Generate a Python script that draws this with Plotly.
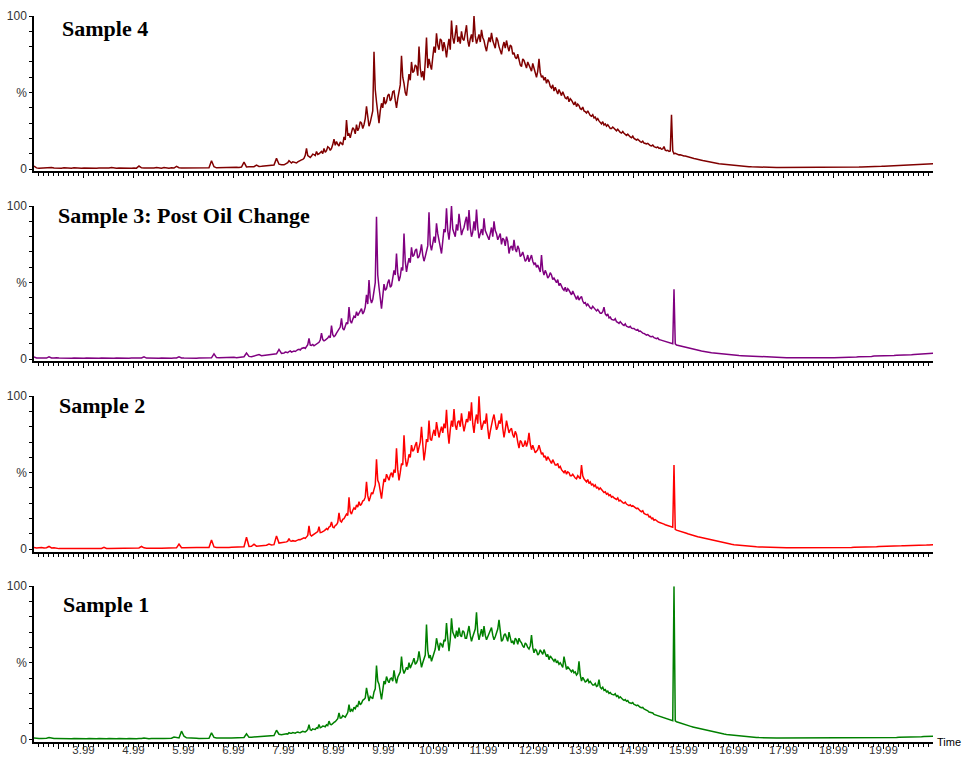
import plotly.graph_objects as go
from plotly.subplots import make_subplots

# Total ion chromatograms, relative intensity (%).
# Each run is stored in three stretches: 3.00-7.95 min every 0.05 min,
# 8.000-16.475 min every 0.025 min (the hydrocarbon hump), 16.50-21.00 min every 0.05 min.
early_start, early_step, early_n = 3.00, 0.05, 100
main_start, main_step, main_n = 8.00, 0.025, 340
late_start, late_step, late_n = 16.50, 0.05, 91

sample4_early = [
    2.0, 0.8, 0.6, 0.7, 0.6, 0.8, 0.7, 1.1, 0.7, 0.6, 0.7, 0.6, 0.8, 0.6, 0.7, 0.6, 0.8, 0.6, 0.7, 0.6,
    0.7, 0.6, 0.8, 0.6, 0.7, 0.6, 0.7, 0.6, 0.8, 0.6, 0.7, 1.0, 0.7, 0.6, 0.7, 0.6, 0.8, 0.6, 0.7, 0.6,
    0.7, 0.6, 2.0, 0.8, 0.7, 0.6, 0.7, 0.6, 0.7, 1.0, 0.7, 0.6, 1.0, 0.7, 0.6, 0.8, 0.7, 1.8, 0.9, 0.7,
    0.7, 0.6, 0.7, 0.8, 0.7, 0.6, 0.7, 0.8, 0.7, 0.8, 0.9, 5.4, 1.5, 0.8, 0.9, 1.0, 0.9, 1.0, 1.1, 1.0,
    1.1, 1.2, 1.1, 1.3, 4.5, 1.4, 1.5, 1.4, 1.6, 2.6, 1.7, 1.8, 2.0, 2.0, 2.2, 2.4, 2.6, 7.0, 3.2, 2.8,
]
sample4_main = [
    2.8, 3.3, 3.5, 4.2, 5.5, 4.6, 4.0, 4.8, 4.5, 3.9, 4.0, 4.7, 5.0, 5.2, 6.0, 6.4, 7.0, 9.0, 13.6, 8.8,
    8.0, 7.6, 8.5, 9.8, 9.5, 8.9, 11.5, 9.6, 10.0, 10.8, 11.5, 10.2, 13.5, 11.0, 12.0, 14.6, 14.0, 12.2, 13.5, 16.0,
    19.5, 15.5, 18.0, 16.2, 15.0, 17.8, 17.0, 15.8, 21.0, 19.0, 32.0, 22.5, 23.0, 20.5, 24.0, 27.0, 26.0, 23.0, 29.0, 25.0,
    27.0, 31.0, 30.0, 26.5, 29.0, 33.0, 41.0, 32.0, 28.0, 30.5, 35.0, 38.0, 76.7, 52.0, 44.0, 36.0, 30.0, 38.0, 43.0, 40.0,
    47.0, 42.5, 44.0, 48.0, 49.0, 44.5, 46.0, 50.5, 51.0, 45.0, 40.0, 46.0, 52.0, 55.0, 74.0, 60.0, 56.0, 50.0, 48.0, 54.0,
    62.0, 58.0, 70.0, 63.0, 64.0, 68.0, 67.0, 61.0, 80.0, 66.0, 60.0, 64.0, 58.0, 70.0, 86.0, 66.0, 72.0, 68.0, 65.0, 73.0,
    80.0, 76.0, 88.7, 81.0, 78.0, 85.0, 84.0, 77.0, 83.0, 79.0, 73.0, 80.0, 85.0, 78.0, 97.0, 86.0, 82.0, 88.0, 94.0, 83.0,
    86.5, 82.0, 90.0, 85.0, 84.0, 89.0, 94.0, 84.0, 80.0, 85.0, 88.0, 83.0, 100.0, 87.0, 82.0, 85.0, 88.0, 83.0, 91.0, 86.0,
    84.0, 80.0, 77.0, 82.0, 86.0, 83.0, 89.0, 84.0, 82.0, 79.0, 86.0, 84.0, 80.0, 77.0, 75.0, 80.0, 83.0, 79.0, 84.0, 80.0,
    77.0, 81.0, 80.0, 75.0, 76.0, 73.0, 72.0, 75.0, 70.0, 68.0, 67.0, 72.0, 71.0, 68.0, 66.0, 70.0, 68.0, 65.0, 64.0, 69.0,
    66.0, 63.0, 60.0, 64.0, 72.0, 63.0, 60.0, 61.0, 58.0, 60.0, 56.0, 58.5, 57.0, 54.0, 53.0, 55.0, 51.0, 53.5, 50.6, 49.0,
    52.0, 50.0, 48.0, 50.5, 48.4, 46.5, 46.0, 47.5, 44.0, 46.0, 45.0, 43.0, 42.0, 44.0, 40.8, 42.5, 41.5, 39.5, 39.0, 40.5,
    38.0, 37.5, 36.6, 38.0, 36.0, 35.0, 34.5, 35.5, 33.5, 34.0, 32.0, 33.0, 31.5, 30.5, 29.5, 31.0, 28.8, 29.5, 28.0, 29.0,
    27.5, 26.5, 26.5, 27.5, 26.7, 25.5, 25.0, 26.0, 24.5, 24.0, 23.5, 24.5, 23.4, 22.5, 22.0, 22.8, 21.5, 21.0, 20.5, 21.5,
    20.0, 19.2, 19.0, 19.5, 18.5, 18.0, 17.5, 18.2, 17.0, 16.6, 16.5, 16.8, 15.8, 15.4, 15.2, 15.7, 14.7, 14.3, 14.0, 14.5,
    13.5, 13.8, 13.0, 13.2, 14.7, 12.4, 12.0, 12.3, 11.5, 11.8, 35.4, 12.0, 10.0, 10.3, 9.8, 9.5, 9.3, 9.4, 9.0, 8.8,
    8.6, 8.5, 8.2, 8.0, 7.8, 7.6, 7.3, 7.1, 6.9, 6.8, 6.5, 6.3, 6.1, 6.0, 5.8, 5.6, 5.4, 5.3, 5.0, 4.9,
]
sample4_late = [
    4.7, 4.4, 4.1, 3.8, 3.5, 3.3, 3.1, 2.9, 2.7, 2.5,
    2.3, 2.1, 2.0, 1.9, 1.8, 1.7, 1.6, 1.5, 1.4, 1.3, 1.2, 1.2, 1.1, 1.1, 1.0, 1.0, 1.0, 1.0, 1.0, 1.0,
    1.0, 0.9, 1.0, 0.9, 1.0, 0.9, 1.0, 0.9, 1.0, 0.9, 1.0, 0.9, 1.0, 0.9, 1.0, 0.9, 1.0, 0.9, 1.0, 1.0,
    1.0, 1.0, 1.0, 1.0, 1.0, 1.1, 1.1, 1.2, 1.2, 1.3, 1.3, 1.4, 1.4, 1.5, 1.5, 1.6, 1.6, 1.7, 1.7, 1.8,
    1.9, 2.0, 2.1, 2.2, 2.3, 2.3, 2.4, 2.5, 2.6, 2.7, 2.8, 2.8, 2.9, 3.0, 3.1, 3.2, 3.2, 3.3, 3.4, 3.5, 3.6,
]

sample3_early = [
    1.5, 0.8, 0.7, 0.7, 0.8, 0.7, 1.5, 0.8, 0.7, 1.0, 0.7, 0.6, 0.7, 0.6, 0.7, 0.6, 0.7, 0.6, 0.7, 0.6,
    0.6, 0.7, 0.6, 0.6, 0.7, 0.6, 0.6, 0.7, 0.6, 0.6, 0.7, 0.6, 0.6, 0.7, 0.6, 0.6, 0.7, 0.6, 0.6, 0.7,
    0.6, 0.6, 0.7, 0.8, 1.5, 0.7, 0.6, 0.6, 0.7, 0.6, 0.6, 0.7, 0.6, 0.6, 0.7, 0.6, 0.7, 0.8, 1.5, 0.8,
    0.7, 0.6, 0.7, 0.6, 0.7, 0.6, 0.7, 0.7, 0.8, 0.8, 0.9, 0.9, 3.5, 1.0, 0.9, 1.0, 1.0, 1.1, 1.0, 1.1,
    1.2, 1.0, 1.3, 1.5, 1.6, 4.0, 1.8, 1.6, 2.0, 2.2, 3.0, 2.3, 2.5, 2.8, 2.6, 3.0, 3.2, 3.5, 6.4, 3.8,
]
sample3_main = [
    4.0, 4.6, 4.5, 4.2, 5.0, 5.4, 4.6, 4.9, 5.3, 5.0, 5.8, 6.2, 6.4, 6.0, 7.0, 7.4, 7.5, 7.0, 8.0, 9.5,
    13.6, 9.2, 9.0, 9.6, 8.7, 9.4, 10.0, 10.5, 11.0, 12.5, 17.0, 12.8, 12.0, 12.5, 13.0, 13.8, 15.0, 14.0, 22.0, 16.0,
    14.7, 15.5, 17.0, 18.2, 19.0, 21.0, 26.7, 20.0, 19.0, 21.5, 24.0, 23.0, 34.0, 25.0, 23.5, 26.0, 28.0, 27.0, 31.0, 28.5,
    30.0, 31.5, 33.0, 29.5, 31.0, 34.0, 42.0, 36.0, 51.7, 40.0, 36.6, 39.0, 45.0, 50.0, 93.0, 55.0, 47.0, 39.0, 33.0, 41.0,
    49.0, 45.0, 46.0, 50.0, 52.0, 47.0, 48.0, 53.0, 58.0, 55.0, 69.0, 56.0, 51.0, 54.0, 60.0, 58.0, 82.0, 64.0, 57.0, 62.0,
    66.0, 63.0, 73.0, 67.0, 68.0, 71.0, 72.0, 66.0, 67.0, 70.0, 75.0, 68.0, 64.0, 67.0, 70.0, 74.0, 96.0, 75.0, 71.0, 77.0,
    80.0, 76.0, 88.7, 82.0, 78.0, 73.0, 69.0, 77.0, 85.0, 83.0, 98.5, 84.0, 78.0, 86.0, 100.0, 85.0, 82.0, 80.0, 88.0, 84.0,
    95.0, 85.0, 81.0, 84.0, 86.0, 90.0, 93.0, 84.0, 97.4, 86.0, 80.0, 83.0, 90.0, 84.0, 97.7, 86.0, 79.0, 82.0, 85.0, 81.0,
    92.0, 84.0, 82.0, 80.0, 78.0, 82.0, 86.0, 80.0, 90.0, 84.0, 82.0, 78.0, 80.0, 82.0, 75.0, 79.0, 78.0, 74.0, 80.0, 77.0,
    69.0, 73.0, 74.0, 71.0, 78.0, 72.0, 70.0, 74.0, 72.0, 67.0, 68.0, 70.0, 67.0, 64.0, 65.0, 68.0, 63.6, 66.0, 68.0, 64.0,
    62.0, 63.0, 60.0, 61.5, 59.0, 57.0, 68.0, 58.0, 55.0, 58.0, 56.0, 53.0, 54.0, 56.5, 55.0, 52.0, 53.0, 51.0, 50.0, 52.0,
    48.0, 49.5, 47.0, 46.0, 45.0, 47.0, 44.0, 46.0, 45.0, 43.0, 42.0, 44.5, 43.0, 41.0, 39.0, 41.5, 38.6, 40.0, 41.0, 38.0,
    36.5, 37.0, 35.0, 36.0, 34.5, 33.5, 33.0, 34.5, 33.5, 32.0, 31.5, 32.5, 31.0, 30.0, 30.0, 31.0, 34.0, 29.5, 28.5, 29.5,
    27.0, 27.5, 26.0, 25.5, 25.5, 26.5, 24.5, 24.0, 23.4, 24.5, 23.0, 22.5, 22.0, 23.0, 21.5, 21.0, 20.8, 21.5, 20.3, 20.0,
    20.0, 19.3, 19.0, 19.4, 18.2, 18.4, 17.6, 17.0, 16.8, 16.3, 15.7, 16.0, 15.2, 14.8, 14.6, 14.9, 14.0, 13.6, 13.4, 13.8,
    12.8, 12.6, 12.3, 12.0, 11.8, 11.6, 11.2, 11.0, 10.6, 10.7, 10.3, 10.1, 45.6, 10.0, 9.2, 9.0, 8.8, 8.6, 8.3, 8.1,
    7.8, 7.5, 7.3, 7.1, 6.9, 6.7, 6.5, 6.4, 6.2, 6.0, 5.9, 5.7, 5.6, 5.4, 5.3, 5.2, 5.0, 4.9, 4.8, 4.6,
]
sample3_late = [
    4.5, 4.2, 4.0, 3.8, 3.6, 3.4, 3.3, 3.1, 2.9, 2.7,
    2.6, 2.5, 2.4, 2.3, 2.2, 2.1, 2.0, 1.9, 1.8, 1.7, 1.7, 1.6, 1.5, 1.4, 1.3, 1.2, 1.2, 1.1, 1.1, 1.0,
    1.0, 0.9, 1.0, 0.9, 1.0, 0.9, 1.0, 0.9, 1.0, 0.9, 1.0, 0.9, 1.0, 0.9, 1.0, 0.9, 1.0, 0.9, 1.0, 1.0,
    1.0, 1.0, 1.0, 1.1, 1.1, 1.2, 1.2, 1.3, 1.3, 1.4, 1.5, 1.5, 1.6, 1.7, 1.8, 1.8, 2.0, 2.0, 2.1, 2.2,
    2.2, 2.3, 2.3, 2.4, 2.4, 2.5, 2.5, 2.6, 2.7, 2.8, 2.9, 2.9, 3.0, 3.1, 3.2, 3.3, 3.4, 3.5, 3.6, 3.8, 3.9,
]

sample2_early = [
    1.2, 0.8, 1.0, 1.2, 0.8, 1.0, 1.8, 0.8, 1.0, 0.6, 0.4, 0.4, 0.5, 0.4, 0.4, 0.5, 0.4, 0.4, 0.5, 0.4,
    0.4, 0.5, 0.4, 0.4, 0.5, 0.4, 0.4, 0.5, 1.2, 0.5, 0.4, 0.4, 0.5, 0.4, 0.4, 0.5, 0.4, 0.4, 0.5, 0.4,
    0.5, 0.6, 0.8, 1.8, 0.9, 0.7, 0.6, 0.7, 0.6, 0.7, 0.6, 0.7, 0.7, 0.8, 0.7, 0.8, 0.8, 0.9, 3.4, 1.0,
    1.0, 1.1, 1.0, 1.1, 1.0, 1.1, 1.1, 1.0, 1.1, 1.2, 1.1, 6.0, 1.5, 1.2, 1.1, 1.2, 1.2, 1.3, 1.2, 1.3,
    1.3, 1.4, 1.4, 1.5, 1.6, 7.8, 1.8, 1.9, 3.3, 2.0, 2.1, 2.3, 2.5, 2.6, 3.4, 2.8, 3.0, 8.7, 4.0, 4.2,
]
sample2_main = [
    4.5, 4.9, 4.8, 5.3, 7.0, 5.4, 5.2, 5.6, 5.5, 5.2, 5.6, 6.0, 6.4, 6.2, 6.8, 7.2, 7.5, 7.1, 8.0, 9.0,
    15.3, 9.5, 8.7, 9.2, 9.5, 10.0, 10.5, 11.5, 14.7, 10.8, 11.0, 11.8, 12.0, 12.6, 13.5, 12.8, 14.5, 15.0, 17.8, 14.5,
    14.0, 15.5, 16.0, 17.5, 23.8, 18.5, 17.8, 19.5, 20.0, 21.5, 23.0, 22.0, 33.9, 24.5, 23.0, 25.5, 27.0, 26.0, 29.0, 27.5,
    31.0, 28.5, 29.5, 31.5, 32.0, 34.0, 44.0, 35.0, 31.4, 34.0, 37.0, 36.0, 40.0, 42.0, 58.7, 45.0, 43.0, 38.0, 33.0, 40.0,
    46.0, 44.0, 49.0, 47.0, 45.0, 48.5, 50.0, 47.0, 52.0, 50.0, 66.0, 52.0, 45.0, 50.0, 56.0, 55.0, 74.5, 60.0, 54.0, 57.0,
    62.0, 60.0, 68.0, 64.0, 65.0, 68.0, 70.0, 63.0, 66.0, 70.0, 80.0, 65.0, 58.0, 64.0, 72.0, 70.0, 84.0, 72.0, 71.0, 75.0,
    78.0, 74.0, 83.0, 78.0, 73.0, 77.0, 80.0, 76.0, 82.0, 79.0, 91.0, 77.0, 69.0, 78.0, 84.0, 80.0, 91.5, 81.0, 78.0, 83.0,
    84.0, 80.0, 88.7, 82.0, 77.0, 81.0, 85.0, 83.0, 90.0, 84.0, 96.0, 82.0, 76.0, 84.0, 88.0, 82.0, 100.0, 85.0, 78.0, 81.0,
    84.0, 82.0, 88.7, 79.0, 72.0, 77.0, 82.0, 85.0, 88.0, 81.0, 78.0, 80.0, 84.0, 82.0, 88.7, 79.0, 73.0, 78.0, 84.0, 80.0,
    76.0, 78.0, 79.0, 75.0, 73.0, 77.0, 75.0, 70.0, 66.0, 71.0, 70.0, 67.0, 68.0, 71.0, 67.0, 70.0, 76.0, 69.0, 65.0, 68.0,
    66.0, 63.0, 64.0, 65.0, 68.0, 64.0, 62.0, 63.0, 60.0, 61.0, 58.0, 60.5, 59.0, 57.0, 56.0, 58.5, 57.0, 55.0, 55.0, 56.0,
    53.0, 54.0, 52.0, 51.0, 50.0, 51.5, 49.0, 50.5, 50.0, 48.0, 48.0, 49.0, 47.5, 46.5, 46.0, 48.0, 47.0, 46.0, 55.0, 48.0,
    46.0, 45.0, 44.0, 45.5, 43.0, 44.0, 42.0, 42.5, 41.0, 42.0, 40.0, 40.5, 39.0, 40.0, 38.6, 38.0, 37.0, 37.5, 36.0, 36.5,
    35.0, 35.5, 34.0, 34.5, 33.5, 33.0, 32.5, 33.5, 31.5, 32.0, 31.0, 30.5, 30.0, 30.8, 29.5, 29.0, 28.5, 29.0, 28.0, 28.5,
    27.7, 27.0, 26.5, 26.8, 25.5, 25.0, 24.5, 25.2, 23.4, 23.0, 22.5, 22.8, 21.2, 21.5, 20.0, 20.4, 19.0, 19.4, 18.3, 18.0,
    17.6, 17.4, 17.0, 16.8, 16.4, 16.0, 15.8, 15.6, 15.2, 15.0, 14.7, 14.4, 55.0, 13.0, 12.5, 12.3, 12.0, 11.7, 11.4, 11.2,
    10.9, 10.6, 10.4, 10.1, 9.8, 9.6, 9.4, 9.2, 9.0, 8.7, 8.5, 8.2, 8.0, 7.8, 7.6, 7.4, 7.2, 7.0, 6.8, 6.6,
]
sample2_late = [
    6.4, 6.0, 5.6, 5.2, 4.8, 4.4, 4.1, 3.8, 3.5, 3.2,
    3.0, 2.8, 2.6, 2.4, 2.2, 2.1, 2.0, 1.8, 1.7, 1.6, 1.5, 1.4, 1.3, 1.2, 1.2, 1.1, 1.0, 1.0, 0.9, 0.9,
    0.9, 0.9, 0.9, 0.9, 0.9, 0.9, 0.9, 0.9, 0.9, 0.9, 0.8, 0.8, 0.8, 0.8, 0.8, 0.8, 0.8, 0.8, 0.8, 0.8,
    0.9, 0.9, 1.0, 1.0, 1.1, 1.1, 1.2, 1.2, 1.3, 1.3, 1.4, 1.4, 1.5, 1.5, 1.6, 1.6, 1.7, 1.7, 1.8, 1.8,
    1.9, 1.9, 2.0, 2.0, 2.1, 2.1, 2.2, 2.2, 2.3, 2.3, 2.4, 2.4, 2.5, 2.5, 2.6, 2.6, 2.7, 2.7, 2.8, 2.8, 2.9,
]

sample1_early = [
    0.8, 0.5, 0.5, 0.6, 0.5, 0.7, 1.1, 0.6, 0.5, 0.6, 0.5, 0.4, 0.5, 0.4, 0.5, 0.4, 0.5, 0.4, 0.5, 0.4,
    0.5, 0.4, 0.6, 0.4, 0.5, 0.4, 0.6, 0.4, 0.5, 0.4, 0.6, 0.4, 0.5, 0.4, 0.6, 0.4, 0.5, 0.4, 0.6, 0.4,
    0.5, 0.4, 0.6, 0.5, 0.9, 0.5, 0.4, 0.5, 0.4, 0.5, 0.4, 0.5, 0.6, 0.7, 0.8, 0.7, 1.5, 1.2, 0.9, 5.3,
    2.0, 1.0, 0.8, 0.7, 0.6, 0.7, 0.6, 0.7, 0.6, 0.7, 0.7, 4.2, 1.2, 0.8, 0.7, 0.7, 0.8, 0.7, 0.8, 0.8,
    0.9, 1.0, 1.0, 1.1, 1.2, 3.6, 1.3, 1.4, 1.5, 1.5, 1.6, 1.7, 1.8, 1.9, 2.0, 2.2, 2.5, 5.9, 3.3, 3.0,
]
sample1_main = [
    3.4, 3.8, 3.6, 3.4, 4.3, 4.0, 3.9, 4.4, 4.2, 4.0, 4.5, 4.8, 4.5, 4.3, 4.8, 5.2, 5.0, 4.8, 5.5, 6.5,
    9.5, 6.2, 5.8, 6.8, 6.5, 6.4, 7.5, 7.2, 9.7, 7.6, 8.0, 8.6, 8.5, 8.2, 9.5, 9.0, 11.9, 9.8, 9.5, 10.5,
    11.0, 11.5, 12.5, 13.5, 17.3, 13.8, 14.0, 15.5, 15.0, 14.5, 16.0, 17.5, 22.7, 18.0, 19.4, 18.5, 21.0, 20.0, 22.0, 21.5,
    25.0, 22.5, 23.5, 25.5, 26.0, 27.0, 33.6, 27.5, 25.0, 28.0, 27.0, 26.5, 31.0, 33.0, 48.2, 38.0, 36.0, 30.0, 26.0, 32.0,
    38.0, 36.0, 41.0, 38.5, 37.0, 39.5, 40.0, 38.0, 45.0, 40.0, 36.6, 40.5, 42.0, 44.0, 54.0, 46.0, 43.0, 44.5, 47.0, 45.5,
    50.0, 46.5, 48.0, 50.5, 53.0, 49.0, 50.0, 52.0, 57.5, 51.0, 47.0, 50.0, 52.0, 55.0, 75.0, 58.0, 53.0, 55.0, 51.0, 54.0,
    56.0, 59.0, 66.0, 61.0, 58.0, 63.0, 62.0, 60.0, 65.0, 64.0, 76.0, 66.0, 57.5, 65.0, 79.0, 70.0, 68.0, 66.0, 71.0, 67.0,
    73.0, 68.0, 67.0, 71.0, 70.0, 66.0, 66.0, 70.0, 74.0, 68.0, 64.0, 67.0, 70.0, 72.0, 83.0, 70.0, 65.0, 69.0, 72.0, 67.0,
    74.0, 68.0, 65.0, 67.0, 69.0, 71.0, 73.0, 68.0, 65.0, 67.0, 70.0, 72.0, 78.0, 69.0, 64.0, 65.0, 68.0, 69.0, 66.0, 64.0,
    70.0, 66.0, 63.0, 64.0, 62.0, 66.0, 65.0, 62.0, 66.0, 64.0, 63.0, 61.0, 60.0, 63.0, 62.0, 60.0, 59.0, 61.0, 68.0, 60.0,
    56.5, 59.0, 58.0, 55.0, 56.0, 58.5, 57.0, 55.5, 58.6, 56.0, 54.0, 55.5, 52.0, 54.5, 53.0, 52.0, 51.0, 52.5, 50.0, 51.0,
    49.0, 50.0, 48.0, 47.0, 54.0, 49.0, 45.6, 47.5, 46.0, 45.0, 44.0, 45.5, 43.4, 44.0, 42.0, 43.0, 51.0, 42.0, 38.0, 40.5,
    39.0, 37.5, 38.0, 39.5, 37.0, 37.8, 36.5, 35.5, 35.5, 36.5, 34.5, 35.0, 39.0, 34.0, 33.0, 34.0, 32.0, 32.5, 31.0, 31.5,
    30.0, 30.5, 29.5, 29.0, 29.0, 29.8, 28.0, 28.5, 27.0, 27.8, 26.5, 26.0, 25.5, 26.0, 24.8, 25.3, 24.0, 23.6, 23.4, 24.0,
    22.8, 22.5, 22.0, 22.3, 21.2, 20.9, 20.6, 20.8, 19.8, 19.5, 19.0, 18.6, 17.8, 17.6, 17.0, 17.2, 16.3, 16.0, 15.6, 15.8,
    15.0, 14.8, 14.5, 14.2, 13.9, 13.7, 13.4, 13.1, 12.8, 12.6, 12.4, 12.2, 100.0, 12.0, 11.5, 11.2, 10.9, 10.6, 10.2, 10.0,
    9.7, 9.5, 9.2, 9.0, 8.7, 8.5, 8.3, 8.1, 7.9, 7.6, 7.4, 7.2, 7.0, 6.8, 6.6, 6.4, 6.2, 6.0, 5.8, 5.6,
]
sample1_late = [
    5.4, 5.0, 4.7, 4.4, 4.1, 3.8, 3.5, 3.2, 3.0, 2.7,
    2.5, 2.3, 2.1, 1.9, 1.7, 1.6, 1.5, 1.4, 1.3, 1.2, 1.1, 1.0, 1.0, 0.9, 0.9, 0.9, 0.8, 0.8, 0.8, 0.8,
    0.8, 0.8, 0.8, 0.8, 0.8, 0.8, 0.8, 0.8, 0.8, 0.8, 0.8, 0.8, 0.8, 0.8, 0.8, 0.8, 0.8, 0.8, 0.8, 0.8,
    0.8, 0.8, 0.8, 0.8, 0.8, 0.9, 0.9, 0.9, 0.9, 0.9, 0.9, 1.0, 1.0, 1.0, 1.0, 1.0, 1.0, 1.0, 1.0, 1.0,
    1.0, 1.0, 1.1, 1.1, 1.2, 1.2, 1.3, 1.3, 1.4, 1.4, 1.5, 1.5, 1.6, 1.6, 1.7, 1.7, 1.8, 1.8, 1.9, 2.0, 2.0,
]

panel_titles = ["Sample 4", "Sample 3: Post Oil Change", "Sample 2", "Sample 1"]
panel_parts = [
    (sample4_early, sample4_main, sample4_late),
    (sample3_early, sample3_main, sample3_late),
    (sample2_early, sample2_main, sample2_late),
    (sample1_early, sample1_main, sample1_late),
]
panel_colors = ["#800000", "#800080", "#FF0000", "#008000"]

time = ([round(early_start + i * early_step, 3) for i in range(early_n)]
        + [round(main_start + i * main_step, 3) for i in range(main_n)]
        + [round(late_start + i * late_step, 3) for i in range(late_n)])

panel_series = []
for early, main, late in panel_parts:
    assert (len(early), len(main), len(late)) == (early_n, main_n, late_n), (len(early), len(main), len(late))
    panel_series.append(early + main + late)

# axis ticks: labelled every minute at x.99, long ticks every half minute, short every 0.1 min
major_ticks = [round(3.49 + 0.5 * k, 2) for k in range(35)]
major_text = [f"{v:.2f}" if abs((v % 1) - 0.99) < 1e-6 else "" for v in major_ticks]
y_ticks = list(range(0, 101, 10))
y_text = ["0", "", "", "", "", "%", "", "", "", "", "100"]

W, H = 963, 759
ML, MR, MT, MB = 34, 30, 16, 16.5
plot_h = H - MT - MB
panel_h = 155.5
panel_pitch = 190.2


def ypaper(px):
    return (H - MB - px) / plot_h


def xpaper(px):
    return (px - ML) / (W - ML - MR)


fig = make_subplots(rows=4, cols=1)

tick_font = dict(family="Arial, Liberation Sans, sans-serif", size=12, color="#333333")
x_tick_font = dict(family="Arial, Liberation Sans, sans-serif", size=11.5, color="#333333")

for i, (name, ys, col) in enumerate(zip(panel_titles, panel_series, panel_colors)):
    row = i + 1
    fig.add_trace(
        go.Scatter(x=time, y=ys, mode="lines", line=dict(color=col, width=1.5),
                   name=name, showlegend=False, hoverinfo="x+y"),
        row=row, col=1,
    )
    top = MT + panel_pitch * i
    fig.update_yaxes(
        domain=[ypaper(top + panel_h), ypaper(top)],
        range=[-1.5, 100], tickmode="array", tickvals=y_ticks, ticktext=y_text,
        ticks="outside", ticklen=3, tickwidth=1, tickcolor="black",
        showline=True, linecolor="black", linewidth=1.5,
        showgrid=False, zeroline=False, tickfont=tick_font, automargin=False,
        row=row, col=1,
    )
    fig.update_xaxes(
        range=[3.0, 20.98], tickmode="array", tickvals=major_ticks, ticktext=major_text,
        ticks="outside", ticklen=5, tickwidth=1, tickcolor="black",
        minor=dict(ticks="outside", ticklen=3, tickwidth=1, tickcolor="black",
                   tick0=3.09, dtick=0.1, showgrid=False),
        showline=True, linecolor="black", linewidth=2,
        showgrid=False, zeroline=False, tickfont=x_tick_font, automargin=False,
        showticklabels=(row == 4), ticklabelstandoff=-8,
        row=row, col=1,
    )

# panel captions
title_pos = [(60, 29), (56, 216), (57, 406), (61, 605)]
for name, (px, pyy) in zip(panel_titles, title_pos):
    fig.add_annotation(
        x=xpaper(px), y=ypaper(pyy), xref="paper", yref="paper",
        xanchor="left", yanchor="middle", showarrow=False,
        text=f"<b>{name}</b>",
        font=dict(family="Times New Roman, Liberation Serif, serif", size=22, color="black"),
    )

fig.add_annotation(
    x=xpaper(963), y=ypaper(743), xref="paper", yref="paper",
    xanchor="right", yanchor="middle", showarrow=False, text="Time",
    font=dict(family="Arial, Liberation Sans, sans-serif", size=11, color="black"),
)

fig.update_layout(
    width=W, height=H,
    margin=dict(l=ML, r=MR, t=MT, b=MB, pad=0, autoexpand=False),
    paper_bgcolor="white", plot_bgcolor="white",
    showlegend=False,
)

fig.write_html("out.html")
